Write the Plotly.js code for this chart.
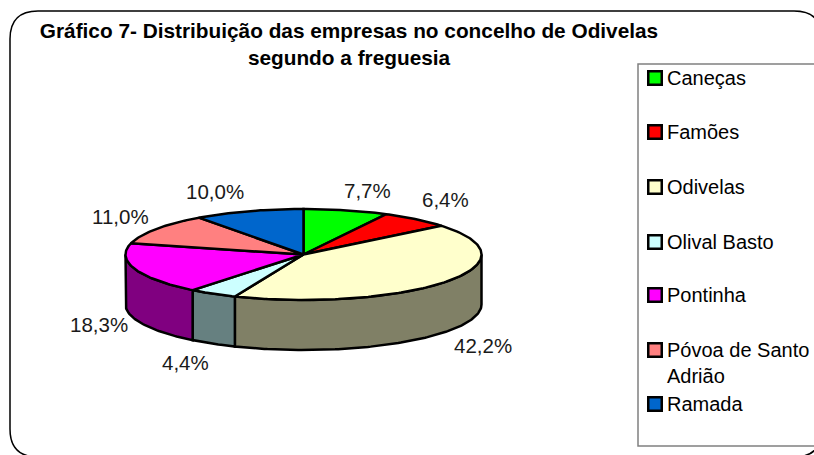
<!DOCTYPE html>
<html><head><meta charset="utf-8">
<script src="https://cdn.plot.ly/plotly-3.0.1.min.js"></script>
<style>html,body{margin:0;padding:0;background:#fff;overflow:hidden}#c{width:814px;height:455px}</style>
</head><body><div id="c"></div>
<script>
const categories = ['Caneças','Famões','Odivelas','Olival Basto','Pontinha','Póvoa de Santo Adrião','Ramada'];
const shares = [7.7,6.4,42.2,4.4,18.3,11.0,10.0];
const topColors = ['#00FF00','#FF0000','#FFFFCC','#CCFFFF','#FF00FF','#FF8080','#0066CC'];
const sideColors = ['#008000','#800000','#808066','#668080','#800080','#804040','#003366'];
const labelX = [367.5,445,483,185,98.5,120,215];
const labelY = [190,199,345,362,324,216,191];
const legendLabels = ['Caneças','Famões','Odivelas','Olival Basto','Pontinha','Póvoa de Santo<br>Adrião','Ramada'];
const legendY = [78,132,187,242,295,362.5,404];
const titleLines = ['Gráfico 7- Distribuição das empresas no concelho de Odivelas','segundo a freguesia'];

const cx=303.5, cy=254.5, rx=178, ry=45.5, depth=50;
const pt=(deg,dy=0)=>{const a=deg*Math.PI/180;return [cx+rx*Math.sin(a),cy-ry*Math.cos(a)+dy];};
const arc=(a,b,dy=0)=>{const n=Math.max(2,Math.ceil(Math.abs(b-a)));const o=[];for(let i=0;i<=n;i++)o.push(pt(a+(b-a)*i/n,dy));return o;};

const sideTraces=[], topTraces=[];
let start=0;
const total=shares.reduce((s,v)=>s+v,0);
shares.forEach((v,i)=>{
  const end=start+v/total*360;
  const a=Math.max(start,90), b=Math.min(end,270);
  if(b>a){
    const p=[...arc(a,b),...arc(b,a,depth)];p.push(p[0]);
    sideTraces.push({type:'scatter',mode:'lines',name:categories[i]+' (lado)',x:p.map(q=>q[0]),y:p.map(q=>q[1]),
      fill:'toself',fillcolor:sideColors[i],line:{color:'#000',width:2.5},hoverinfo:'skip',showlegend:false});
  }
  const p=[[cx,cy],...arc(start,end),[cx,cy]];
  topTraces.push({type:'scatter',mode:'lines',name:categories[i],x:p.map(q=>q[0]),y:p.map(q=>q[1]),
    fill:'toself',fillcolor:topColors[i],line:{color:'#000',width:2.5},hoveron:'fills',
    text:categories[i]+': '+v.toFixed(1).replace('.',',')+'%',hoverinfo:'text',showlegend:false});
  start=end;
});

const swatches={type:'scatter',mode:'markers',x:categories.map(()=>655),y:[78,132,187,242,295,350,404],text:categories,hoverinfo:'text',showlegend:false,
  marker:{symbol:'square',size:13.5,color:topColors,line:{color:'#000',width:2.5}}};

const annotations=[];
shares.forEach((v,i)=>annotations.push({x:labelX[i],y:labelY[i],xref:'x',yref:'y',showarrow:false,
  text:v.toFixed(1).replace('.',',')+'%',font:{size:20.5,color:'#1a1a1a'},xanchor:'center',yanchor:'middle'}));
legendLabels.forEach((t,i)=>annotations.push({x:667,y:legendY[i],xref:'x',yref:'y',showarrow:false,
  text:t,align:'left',font:{size:20,color:'#000'},xanchor:'left',yanchor:'middle',borderpad:0,xshift:-1}));

const R=28,L=10,T=11,Rt=822,B=457;
const shapes=[
 {type:'rect',xref:'x',yref:'y',x0:638,x1:815,y0:64,y1:446,line:{color:'#808080',width:1.5},fillcolor:'rgba(0,0,0,0)',layer:'below'},
 {type:'path',xref:'x',yref:'y',path:`M${L+R},${T} L${Rt-R},${T} Q${Rt},${T} ${Rt},${T+R} L${Rt},${B-R} Q${Rt},${B} ${Rt-R},${B} L${L+R},${B} Q${L},${B} ${L},${B-R} L${L},${T+R} Q${L},${T} ${L+R},${T} Z`,line:{color:'#000',width:1.5},layer:'below'}
];

const layout={width:814,height:455,margin:{l:0,r:0,t:0,b:0},paper_bgcolor:'#fff',plot_bgcolor:'#fff',showlegend:false,
  font:{family:'"Liberation Sans",Arial,sans-serif',color:'#000'},
  title:{text:titleLines.join('<br>'),
    font:{size:20.8,weight:700,color:'#000'},x:349/814,xanchor:'center',y:1-38/455,yanchor:'top',xref:'paper',yref:'paper'},
  xaxis:{range:[0,814],visible:false,fixedrange:true},
  yaxis:{range:[455,0],visible:false,fixedrange:true},
  annotations,shapes,hovermode:'closest'};
Plotly.newPlot('c',[...sideTraces,...topTraces,swatches],layout,{displayModeBar:false,responsive:false});
</script></body></html>
